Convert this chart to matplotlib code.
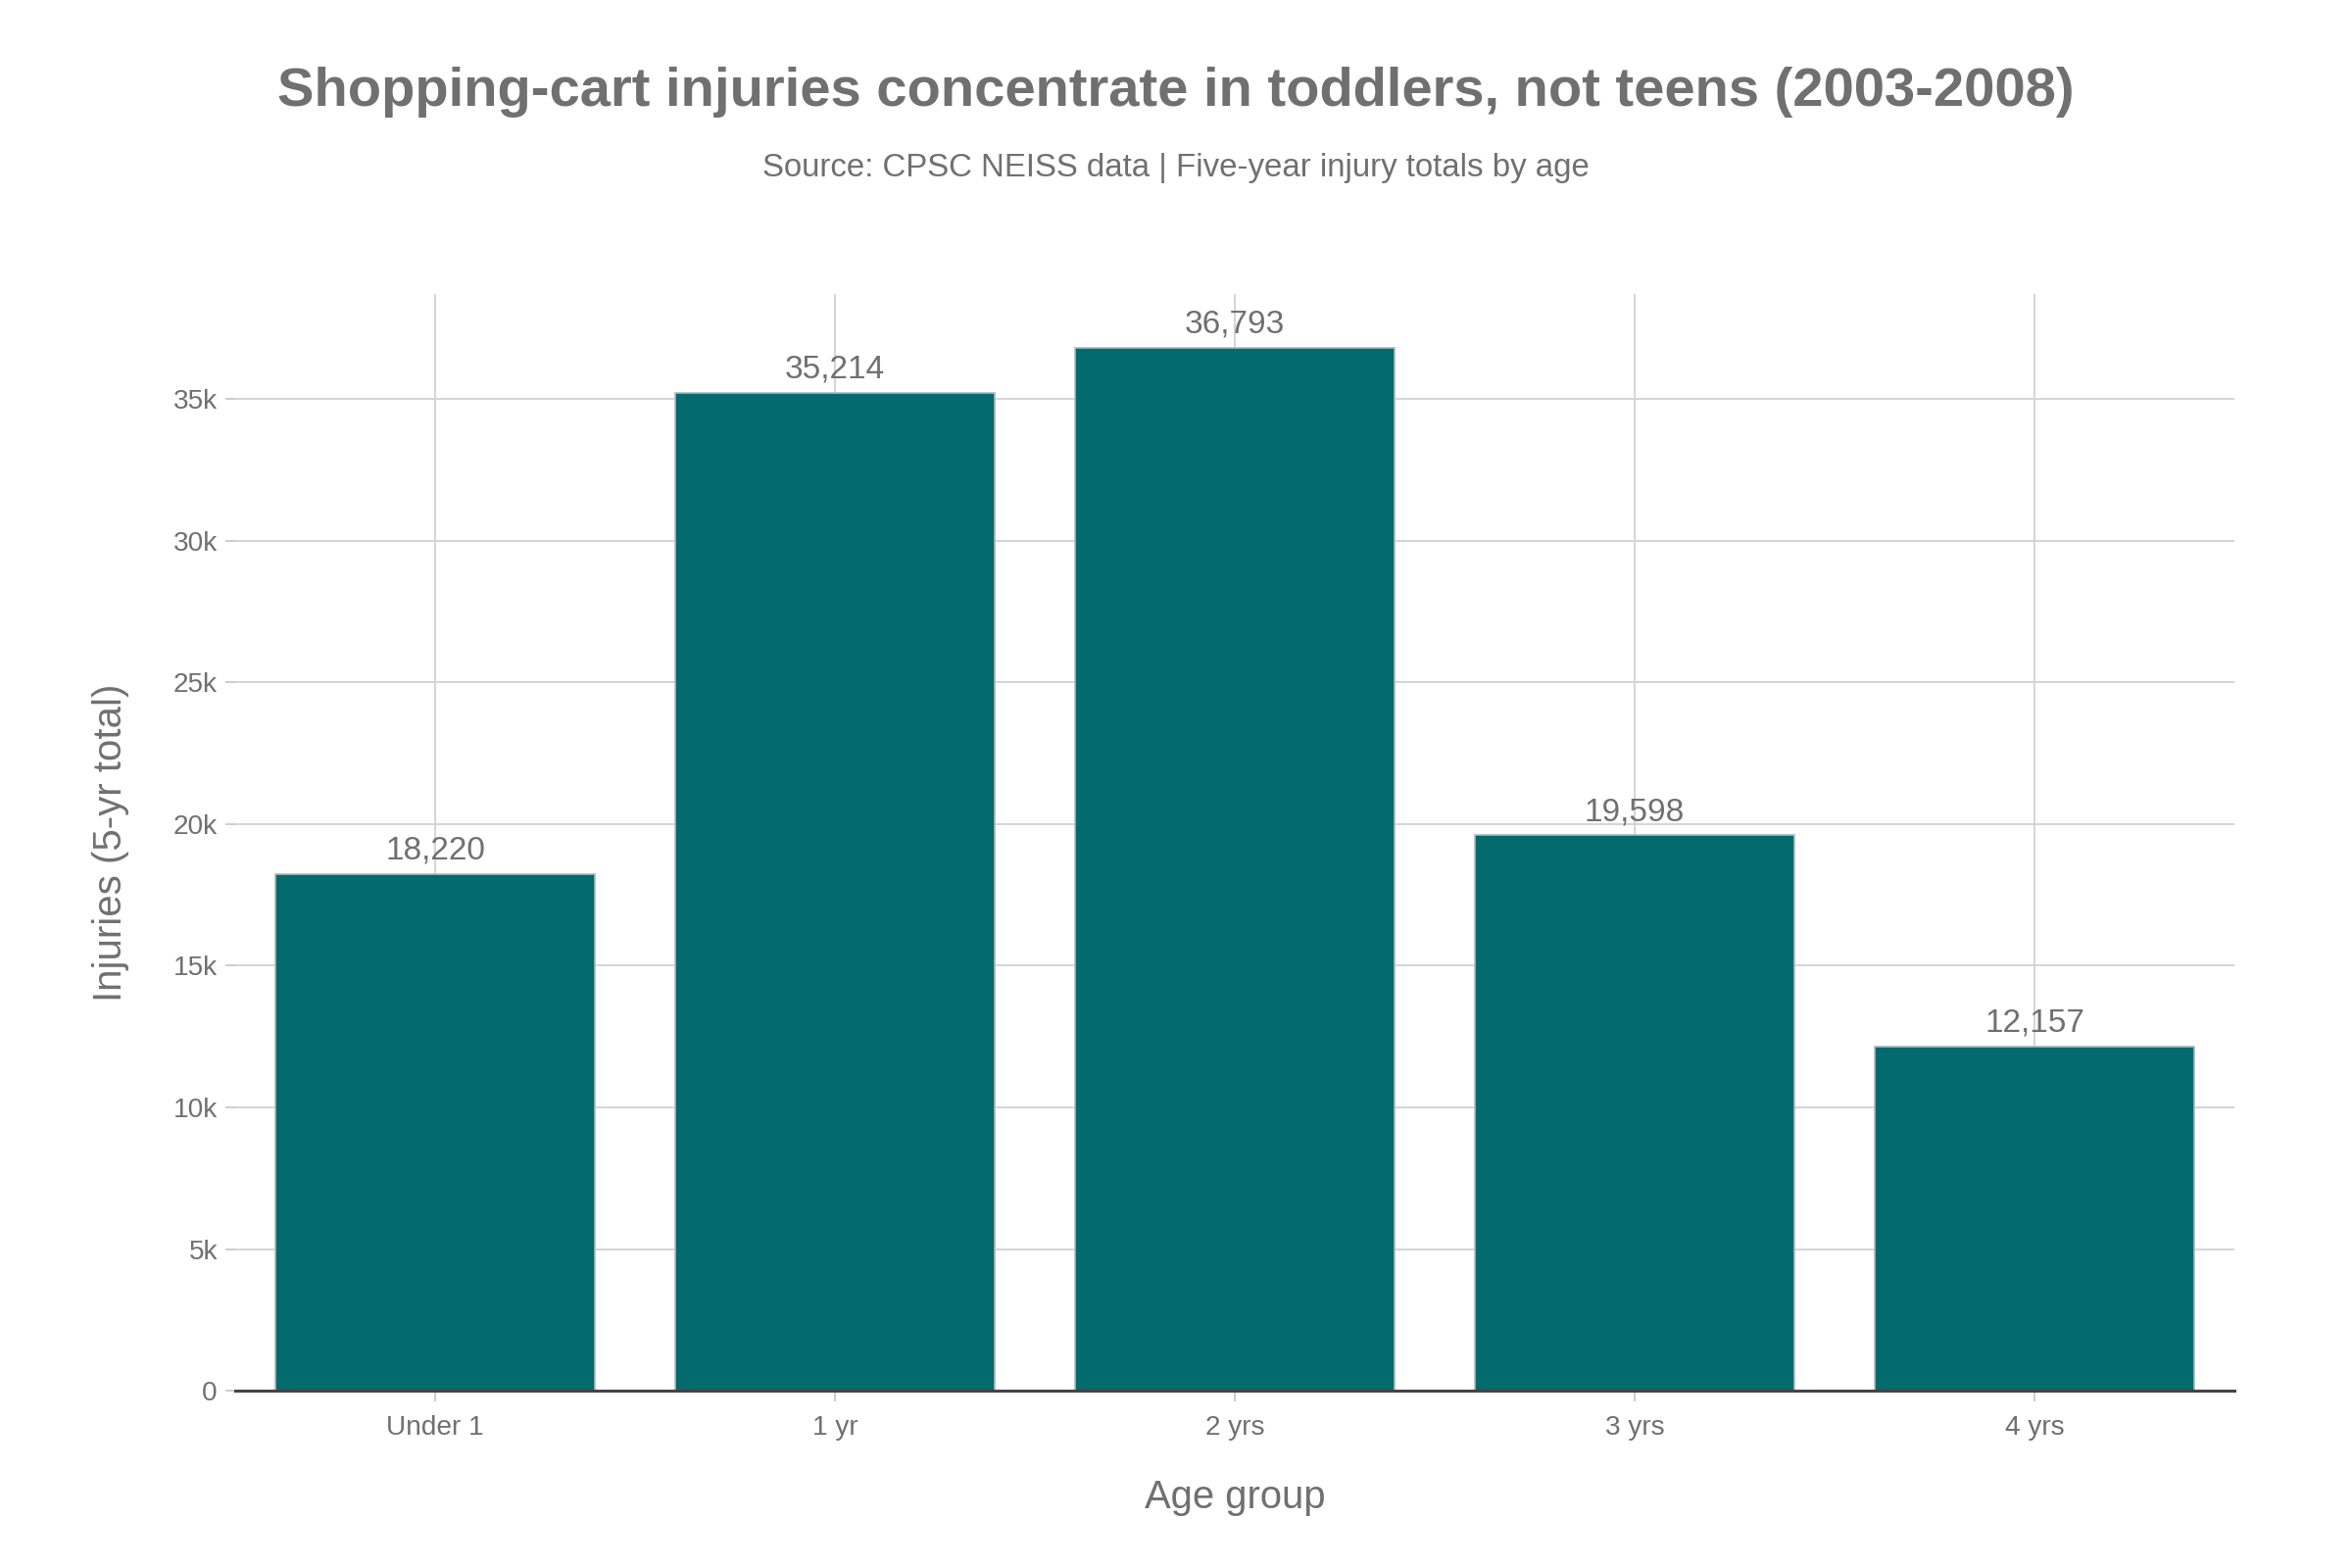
import matplotlib
matplotlib.use("Agg")
import matplotlib.pyplot as plt
from matplotlib.ticker import FuncFormatter

age_groups = ["Under 1", "1 yr", "2 yrs", "3 yrs", "4 yrs"]
injuries = [18220, 35214, 36793, 19598, 12157]
y_ticks = [0, 5000, 10000, 15000, 20000, 25000, 30000, 35000]

plt.rcParams['font.family'] = ['Liberation Sans', 'DejaVu Sans']
text_gray = '#707070'
bar_color = '#036a6e'

fig = plt.figure(figsize=(12, 8), dpi=200)
ax = fig.add_axes([0.100, 0.113, 0.850, 0.6995])

x = range(len(age_groups))
bars = ax.bar(x, injuries, width=0.8, color=bar_color, edgecolor='#b0b8b8',
              linewidth=0.6, zorder=2)

# value labels above each bar
for xi, val in zip(x, injuries):
    ax.annotate(f"{val:,}", (xi, val), xytext=(0, 3), textcoords='offset points',
                ha='center', va='bottom', fontsize=12, color=text_gray, zorder=3)

ax.set_xlim(-0.5, 4.5)
ax.set_ylim(0, 38700)
ax.set_xticks(list(x))
ax.set_xticklabels(age_groups)
ax.set_yticks(y_ticks)
ax.yaxis.set_major_formatter(FuncFormatter(lambda v, p: "0" if v == 0 else f"{v/1000:g}k"))

ax.grid(True, color='#d4d4d4', linewidth=0.7, zorder=0)
ax.set_axisbelow(True)
for s in ['top', 'right', 'left']:
    ax.spines[s].set_visible(False)
ax.spines['bottom'].set_color('#444444')
ax.spines['bottom'].set_linewidth(1.1)
ax.spines['bottom'].set_zorder(4)

ax.tick_params(axis='both', colors='#cccccc', labelcolor=text_gray, labelsize=10.1,
               length=3.5, width=0.7)
ax.tick_params(axis='x', pad=5, length=4)
ax.tick_params(axis='y', pad=3)

ax.set_xlabel("Age group", fontsize=14.4, color=text_gray, labelpad=14)
ax.set_ylabel("Injuries (5-yr total)", fontsize=14.5, color=text_gray, labelpad=16)

fig.text(0.5, 0.9415, "Shopping-cart injuries concentrate in toddlers, not teens (2003-2008)",
         ha='center', va='center', fontsize=20.2, fontweight='bold', color=text_gray)
fig.text(0.5, 0.893, "Source: CPSC NEISS data | Five-year injury totals by age",
         ha='center', va='center', fontsize=11.9, color=text_gray)

fig.savefig("out.png", dpi=200)
